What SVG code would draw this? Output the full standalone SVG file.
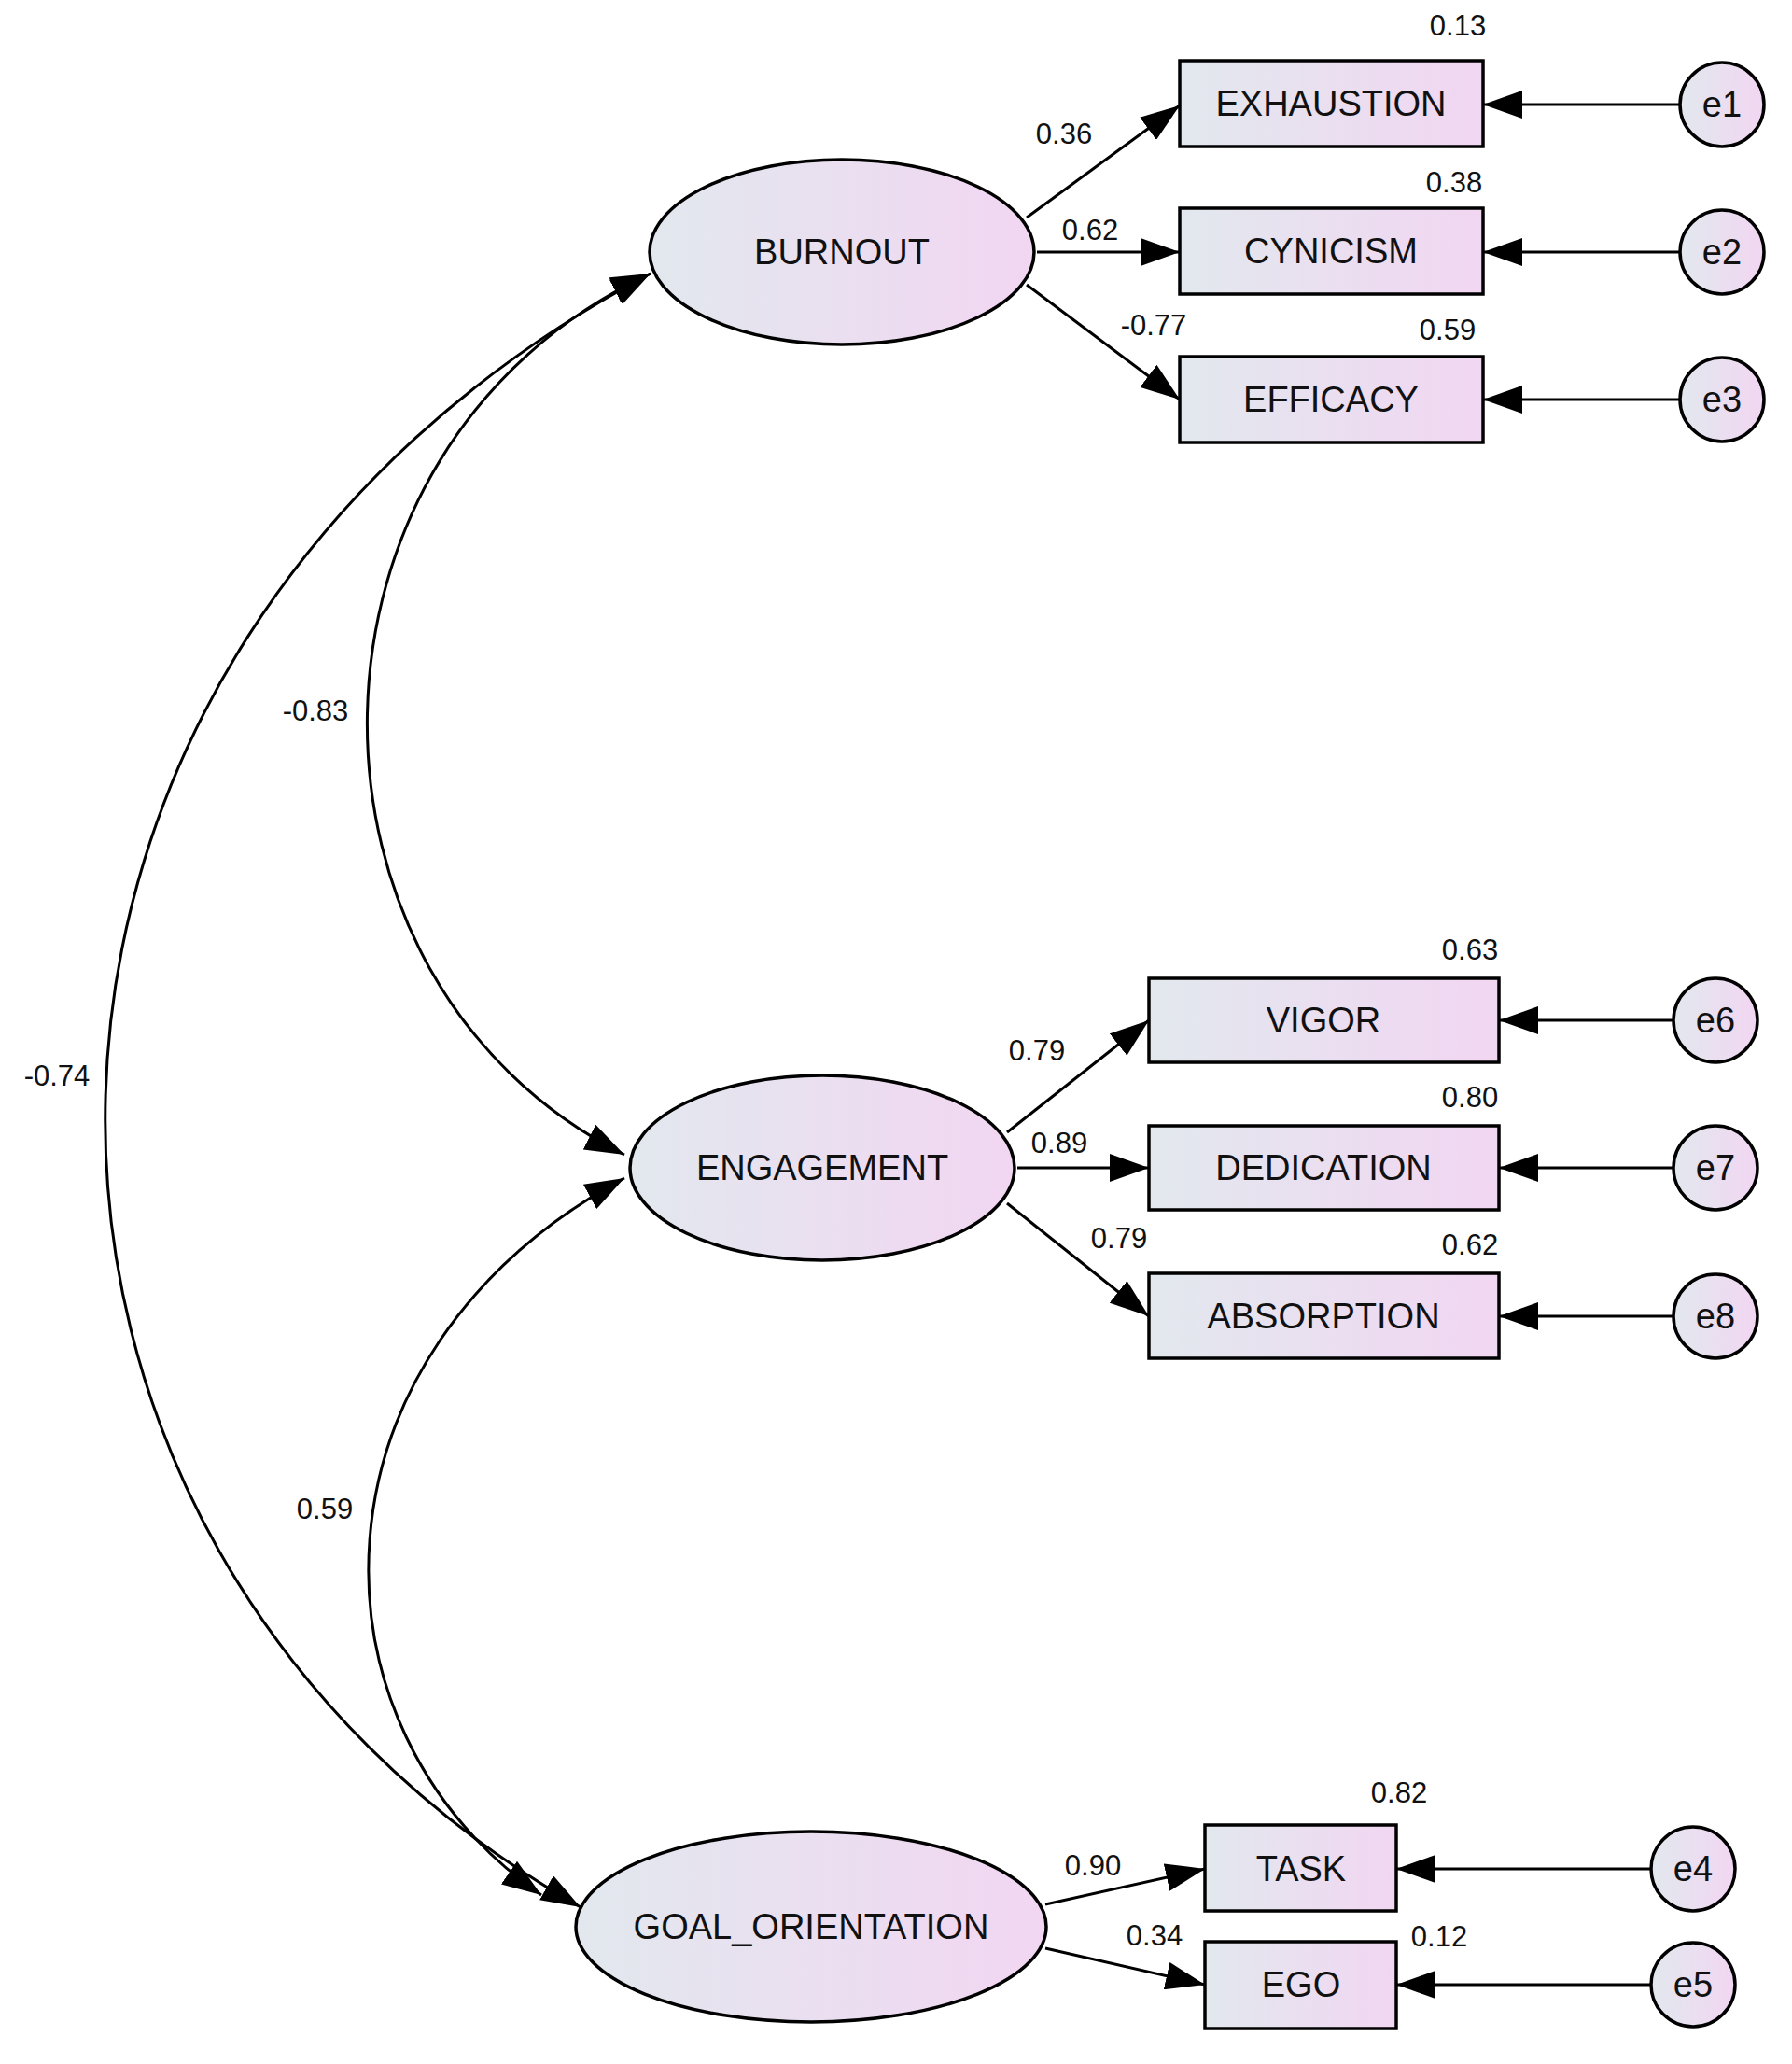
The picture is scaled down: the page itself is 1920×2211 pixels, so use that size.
<svg xmlns="http://www.w3.org/2000/svg" width="1920" height="2211" viewBox="0 0 1920 2211">
<style>
.n{fill:url(#g);stroke:#000;stroke-width:3.5}
.t{font-family:"Liberation Sans",Arial,sans-serif;font-size:38px;text-anchor:middle;fill:#111}
.l{font-family:"Liberation Sans",Arial,sans-serif;font-size:31px;text-anchor:middle;fill:#111}
.c path{fill:none;stroke:#000;stroke-width:3;marker-end:url(#a)}
.c path.d{marker-start:url(#a)}
</style>
<defs>
<linearGradient id="g" x1="0" x2="1" y1="0" y2="0"><stop offset="0" stop-color="#e2e8ee"/><stop offset="1" stop-color="#f2d6f2"/></linearGradient>
<marker id="a" markerUnits="userSpaceOnUse" markerWidth="44" markerHeight="30" refX="42" refY="15" orient="auto-start-reverse"><path d="M0,0 L42,15 L0,30 z" fill="#000"/></marker>
</defs>
<rect width="1920" height="2211" fill="#fff"/>
<g class="c" id="connectors">
<path d="M1100,233 L1264,113"/>
<path d="M1111,270 L1264,270"/>
<path d="M1100,305 L1264,428"/>
<path d="M1800,112 L1589,112"/>
<path d="M1800,270 L1589,270"/>
<path d="M1800,428 L1589,428"/>
<path d="M1079,1213 L1231,1093"/>
<path d="M1090,1251 L1231,1251"/>
<path d="M1079,1289 L1231,1410"/>
<path d="M1793,1093 L1606,1093"/>
<path d="M1793,1251 L1606,1251"/>
<path d="M1793,1410 L1606,1410"/>
<path d="M1120,2040 L1291,2002"/>
<path d="M1120,2087 L1291,2126"/>
<path d="M1769,2002 L1496,2002"/>
<path d="M1769,2126 L1496,2126"/>
<path class="d" d="M697,293 C297,480 297,1050 669,1237"/>
<path class="d" d="M697,293 C-69,700 -69,1650 622,2043"/>
<path class="d" d="M669,1262 C320,1450 320,1850 580,2030"/>
</g>
<g id="BURNOUT"><ellipse class="n" cx="902" cy="270" rx="206" ry="99"/><text class="t" x="902" y="283">BURNOUT</text></g>
<g id="ENGAGEMENT"><ellipse class="n" cx="881" cy="1251" rx="206" ry="99"/><text class="t" x="881" y="1264">ENGAGEMENT</text></g>
<g id="GOAL_ORIENTATION"><ellipse class="n" cx="869" cy="2064" rx="252" ry="102"/><text class="t" x="869" y="2077">GOAL_ORIENTATION</text></g>
<g id="EXHAUSTION"><rect class="n" x="1264" y="65" width="325" height="92"/><text class="t" x="1426" y="124">EXHAUSTION</text></g>
<g id="CYNICISM"><rect class="n" x="1264" y="223" width="325" height="92"/><text class="t" x="1426" y="282">CYNICISM</text></g>
<g id="EFFICACY"><rect class="n" x="1264" y="382" width="325" height="92"/><text class="t" x="1426" y="441">EFFICACY</text></g>
<g id="VIGOR"><rect class="n" x="1231" y="1048" width="375" height="90"/><text class="t" x="1418" y="1106">VIGOR</text></g>
<g id="DEDICATION"><rect class="n" x="1231" y="1206" width="375" height="90"/><text class="t" x="1418" y="1264">DEDICATION</text></g>
<g id="ABSORPTION"><rect class="n" x="1231" y="1364" width="375" height="91"/><text class="t" x="1418" y="1423">ABSORPTION</text></g>
<g id="TASK"><rect class="n" x="1291" y="1955" width="205" height="92"/><text class="t" x="1394" y="2015">TASK</text></g>
<g id="EGO"><rect class="n" x="1291" y="2080" width="205" height="93"/><text class="t" x="1394" y="2139">EGO</text></g>
<g id="e1"><circle class="n" cx="1845" cy="112" r="45"/><text class="t" x="1845" y="125">e1</text></g>
<g id="e2"><circle class="n" cx="1845" cy="270" r="45"/><text class="t" x="1845" y="283">e2</text></g>
<g id="e3"><circle class="n" cx="1845" cy="428" r="45"/><text class="t" x="1845" y="441">e3</text></g>
<g id="e6"><circle class="n" cx="1838" cy="1093" r="45"/><text class="t" x="1838" y="1106">e6</text></g>
<g id="e7"><circle class="n" cx="1838" cy="1251" r="45"/><text class="t" x="1838" y="1264">e7</text></g>
<g id="e8"><circle class="n" cx="1838" cy="1410" r="45"/><text class="t" x="1838" y="1423">e8</text></g>
<g id="e4"><circle class="n" cx="1814" cy="2002" r="45"/><text class="t" x="1814" y="2015">e4</text></g>
<g id="e5"><circle class="n" cx="1814" cy="2126" r="45"/><text class="t" x="1814" y="2139">e5</text></g>
<g id="labels">
<text class="l" x="1562" y="38">0.13</text>
<text class="l" x="1558" y="206">0.38</text>
<text class="l" x="1551" y="364">0.59</text>
<text class="l" x="1140" y="154">0.36</text>
<text class="l" x="1168" y="257">0.62</text>
<text class="l" x="1236" y="359">-0.77</text>
<text class="l" x="1575" y="1028">0.63</text>
<text class="l" x="1575" y="1186">0.80</text>
<text class="l" x="1575" y="1344">0.62</text>
<text class="l" x="1111" y="1136">0.79</text>
<text class="l" x="1135" y="1235">0.89</text>
<text class="l" x="1199" y="1337">0.79</text>
<text class="l" x="1499" y="1931">0.82</text>
<text class="l" x="1542" y="2085">0.12</text>
<text class="l" x="1171" y="2009">0.90</text>
<text class="l" x="1237" y="2084">0.34</text>
<text class="l" x="338" y="772">-0.83</text>
<text class="l" x="61" y="1163">-0.74</text>
<text class="l" x="348" y="1627">0.59</text>
</g>
</svg>
